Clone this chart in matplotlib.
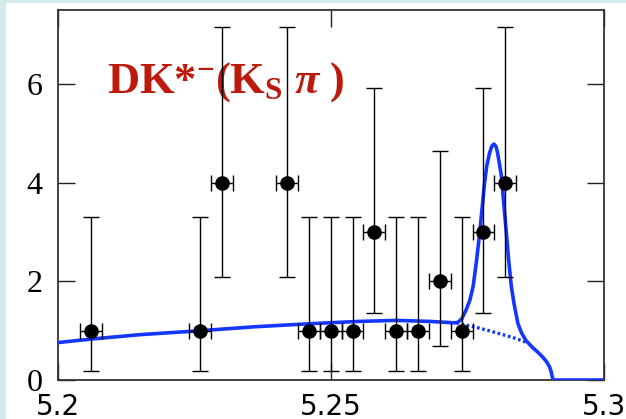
import matplotlib
matplotlib.use("Agg")
import matplotlib.pyplot as plt
from matplotlib.patches import Rectangle

# data points (bin centres, counts, Poisson error bounds)
mbc = [5.206, 5.226, 5.230, 5.242, 5.246, 5.250, 5.254, 5.258,
       5.262, 5.266, 5.270, 5.274, 5.278, 5.282]
counts = [1, 1, 4, 4, 1, 1, 1, 3, 1, 1, 2, 1, 3, 4]
err_low = [0.18, 0.18, 2.09, 2.09, 0.18, 0.18, 0.18, 1.36,
           0.18, 0.18, 0.70, 0.18, 1.36, 2.09]
err_high = [3.30, 3.30, 7.16, 7.16, 3.30, 3.30, 3.30, 5.92,
            3.30, 3.30, 4.64, 3.30, 5.92, 7.16]
bin_half = 0.002

# total fit curve
fit_x = [5.2000, 5.2060, 5.2150, 5.2260, 5.2360, 5.2458, 5.2553, 5.2620,
         5.2680, 5.2727, 5.2733, 5.2740, 5.2748, 5.2755, 5.2761, 5.2767,
         5.2773, 5.2778, 5.2782, 5.2786, 5.2791, 5.2795, 5.2799, 5.2803,
         5.2806, 5.2809, 5.2813, 5.2817, 5.2822, 5.2826, 5.2831, 5.2836,
         5.2843, 5.2850, 5.2858, 5.2870, 5.2880, 5.2889, 5.2895, 5.2901,
         5.2904, 5.2906, 5.2908, 5.3000]
fit_y = [0.76, 0.83, 0.92, 1.00, 1.08, 1.14, 1.19, 1.21,
         1.19, 1.16, 1.17, 1.24, 1.42, 1.62, 1.90, 2.40,
         2.98, 3.55, 4.00, 4.35, 4.60, 4.74, 4.79, 4.74,
         4.60, 4.40, 4.13, 3.60, 2.98, 2.45, 1.90, 1.55,
         1.15, 0.95, 0.80, 0.66, 0.56, 0.46, 0.38, 0.27,
         0.17, 0.07, 0.00, 0.00]

# background only (dotted part)
bkg_x = [5.2730, 5.2750, 5.2770, 5.2790, 5.2806, 5.2822, 5.2837, 5.2850, 5.2860]
bkg_y = [1.16, 1.11, 1.06, 1.00, 0.95, 0.90, 0.85, 0.80, 0.76]

xticks = [5.2, 5.25, 5.3]
xtick_labels = ["5.2", "5.25", "5.3"]
yticks = [0, 2, 4, 6]

plt.rcParams['mathtext.fontset'] = 'custom'
plt.rcParams['mathtext.rm'] = 'Liberation Serif:bold'
plt.rcParams['mathtext.bf'] = 'Liberation Serif:bold'
plt.rcParams['mathtext.it'] = 'Liberation Serif:bold:italic'

fig = plt.figure(figsize=(6.26, 4.19), dpi=100, facecolor='#d4eaee')
fig.patches.append(Rectangle((6/626, 0), 1, 416/419, transform=fig.transFigure,
                             facecolor='white', edgecolor='none', zorder=-10))
ax = fig.add_axes([58/626, 1-380/419, 545.5/626, 370/419])

ax.plot(fit_x, fit_y, color='#1437ff', lw=2.6, zorder=3, solid_joinstyle='round')
ax.plot(bkg_x, bkg_y, color='#1437ff', lw=2.4, linestyle=(0, (0.8, 0.8)), zorder=3)
ax.errorbar(mbc, counts, xerr=bin_half,
            yerr=[[c - l for c, l in zip(counts, err_low)],
                  [h - c for c, h in zip(counts, err_high)]],
            fmt='o', color='k', ms=9.5, elinewidth=1, capsize=6, capthick=1, zorder=4)

ax.set_xlim(5.2, 5.3)
ax.set_ylim(0, 7.51)
ax.set_xticks(xticks)
ax.set_xticklabels(xtick_labels, family='DejaVu Sans', fontsize=20)
ax.set_yticks(yticks)
ax.set_yticklabels([str(v) for v in yticks], family='Liberation Serif', fontsize=23)
ax.tick_params(axis='both', which='major', direction='in', length=12, width=1,
               top=True, right=True, color='#222222')
ax.tick_params(axis='x', pad=9)
ax.tick_params(axis='y', pad=11)
for s in ax.spines.values():
    s.set_color('#333333')
    s.set_linewidth(1.3)

ax.text(0.09, 0.776, "DK*$^{-}$(K$_{\\mathrm{S}}$ $\\pi$ )", transform=ax.transAxes,
        family='Liberation Serif', fontweight='bold', fontsize=32, color='#bb1a0c',
        ha='left', va='baseline')

plt.savefig("out.png", dpi=100, facecolor=fig.get_facecolor())
